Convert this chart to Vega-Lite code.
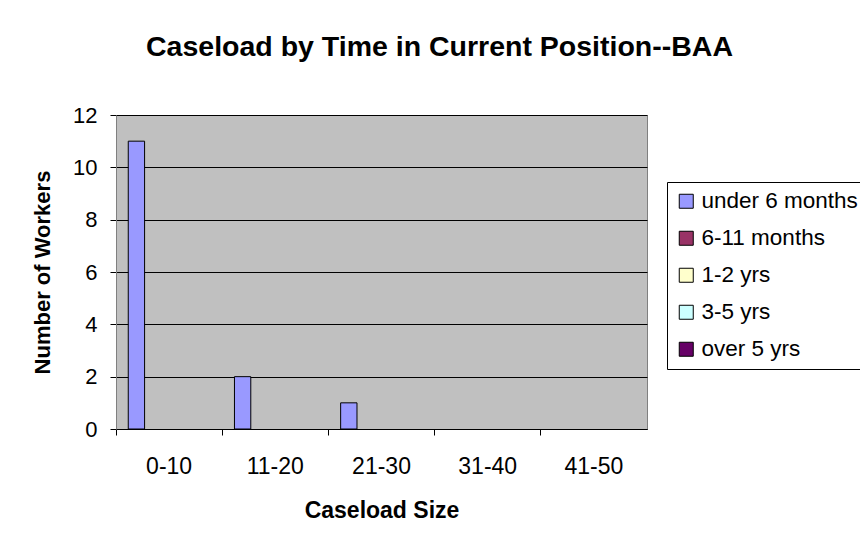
{
  "$schema": "https://vega.github.io/schema/vega-lite/v6.json",
  "autosize": {"type": "none"},
  "padding": {"left": 116, "top": 115, "right": 213, "bottom": 117},
  "width": 531,
  "height": 314,
  "background": "white",
  "title": {
    "text": "Caseload by Time in Current Position--BAA",
    "font": "Liberation Sans",
    "fontSize": 28.5,
    "fontWeight": "bold",
    "color": "black",
    "anchor": "middle",
    "frame": "group",
    "dx": 58,
    "offset": 43
  },
  "data": {
    "values": [
      {"caseload": "0-10", "tenure": "under 6 months", "workers": 11},
      {"caseload": "0-10", "tenure": "6-11 months", "workers": 0},
      {"caseload": "0-10", "tenure": "1-2 yrs", "workers": 0},
      {"caseload": "0-10", "tenure": "3-5 yrs", "workers": 0},
      {"caseload": "0-10", "tenure": "over 5 yrs", "workers": 0},
      {"caseload": "11-20", "tenure": "under 6 months", "workers": 2},
      {"caseload": "11-20", "tenure": "6-11 months", "workers": 0},
      {"caseload": "11-20", "tenure": "1-2 yrs", "workers": 0},
      {"caseload": "11-20", "tenure": "3-5 yrs", "workers": 0},
      {"caseload": "11-20", "tenure": "over 5 yrs", "workers": 0},
      {"caseload": "21-30", "tenure": "under 6 months", "workers": 1},
      {"caseload": "21-30", "tenure": "6-11 months", "workers": 0},
      {"caseload": "21-30", "tenure": "1-2 yrs", "workers": 0},
      {"caseload": "21-30", "tenure": "3-5 yrs", "workers": 0},
      {"caseload": "21-30", "tenure": "over 5 yrs", "workers": 0},
      {"caseload": "31-40", "tenure": "under 6 months", "workers": 0},
      {"caseload": "31-40", "tenure": "6-11 months", "workers": 0},
      {"caseload": "31-40", "tenure": "1-2 yrs", "workers": 0},
      {"caseload": "31-40", "tenure": "3-5 yrs", "workers": 0},
      {"caseload": "31-40", "tenure": "over 5 yrs", "workers": 0},
      {"caseload": "41-50", "tenure": "under 6 months", "workers": 0},
      {"caseload": "41-50", "tenure": "6-11 months", "workers": 0},
      {"caseload": "41-50", "tenure": "1-2 yrs", "workers": 0},
      {"caseload": "41-50", "tenure": "3-5 yrs", "workers": 0},
      {"caseload": "41-50", "tenure": "over 5 yrs", "workers": 0}
    ]
  },
  "mark": {"type": "bar", "stroke": "black"},
  "encoding": {
    "x": {
      "field": "caseload",
      "type": "nominal",
      "sort": ["0-10", "11-20", "21-30", "31-40", "41-50"],
      "scale": {"paddingInner": 0, "paddingOuter": 0},
      "axis": {
        "title": "Caseload Size",
        "labelAngle": 0,
        "bandPosition": 0,
        "grid": false,
        "tickSize": 6,
        "tickColor": "black",
        "domainColor": "black",
        "labelPadding": 20,
        "labelFont": "Liberation Sans",
        "labelFontSize": 23,
        "labelColor": "black",
        "titleFont": "Liberation Sans",
        "titleFontSize": 23,
        "titleFontWeight": "bold",
        "titleColor": "black",
        "titlePadding": 21
      }
    },
    "xOffset": {
      "field": "tenure",
      "type": "nominal",
      "sort": ["under 6 months", "6-11 months", "1-2 yrs", "3-5 yrs", "over 5 yrs"],
      "scale": {"paddingInner": 0, "paddingOuter": 0.75}
    },
    "y": {
      "field": "workers",
      "type": "quantitative",
      "scale": {"domain": [0, 12], "nice": false},
      "axis": {
        "title": "Number of Workers",
        "values": [0, 2, 4, 6, 8, 10, 12],
        "grid": true,
        "gridColor": "black",
        "gridWidth": 1,
        "gridOpacity": 1,
        "tickSize": 6,
        "tickColor": "black",
        "domainColor": "#808080",
        "labelPadding": 13,
        "labelFont": "Liberation Sans",
        "labelFontSize": 22,
        "labelColor": "black",
        "titleFont": "Liberation Sans",
        "titleFontSize": 22,
        "titleFontWeight": "bold",
        "titleColor": "black",
        "titlePadding": 18
      }
    },
    "color": {
      "field": "tenure",
      "type": "nominal",
      "sort": ["under 6 months", "6-11 months", "1-2 yrs", "3-5 yrs", "over 5 yrs"],
      "scale": {
        "domain": ["under 6 months", "6-11 months", "1-2 yrs", "3-5 yrs", "over 5 yrs"],
        "range": ["#9999FF", "#993366", "#FFFFCC", "#CCFFFF", "#660066"]
      },
      "legend": {
        "title": null,
        "orient": "none",
        "legendX": 551,
        "legendY": 67,
        "strokeColor": "black",
        "fillColor": "white",
        "padding": 8,
        "symbolType": "square",
        "symbolSize": 196,
        "symbolStrokeColor": "black",
        "symbolStrokeWidth": 1,
        "symbolOpacity": 1,
        "labelFont": "Liberation Sans",
        "labelFontSize": 22.5,
        "labelColor": "black",
        "labelOffset": 4,
        "rowPadding": 14,
        "labelLimit": 300
      }
    },
    "strokeWidth": {
      "condition": {"test": "datum.workers > 0", "value": 1},
      "value": 0
    }
  },
  "config": {
    "view": {"fill": "#C0C0C0", "stroke": "#808080", "strokeWidth": 1}
  }
}
